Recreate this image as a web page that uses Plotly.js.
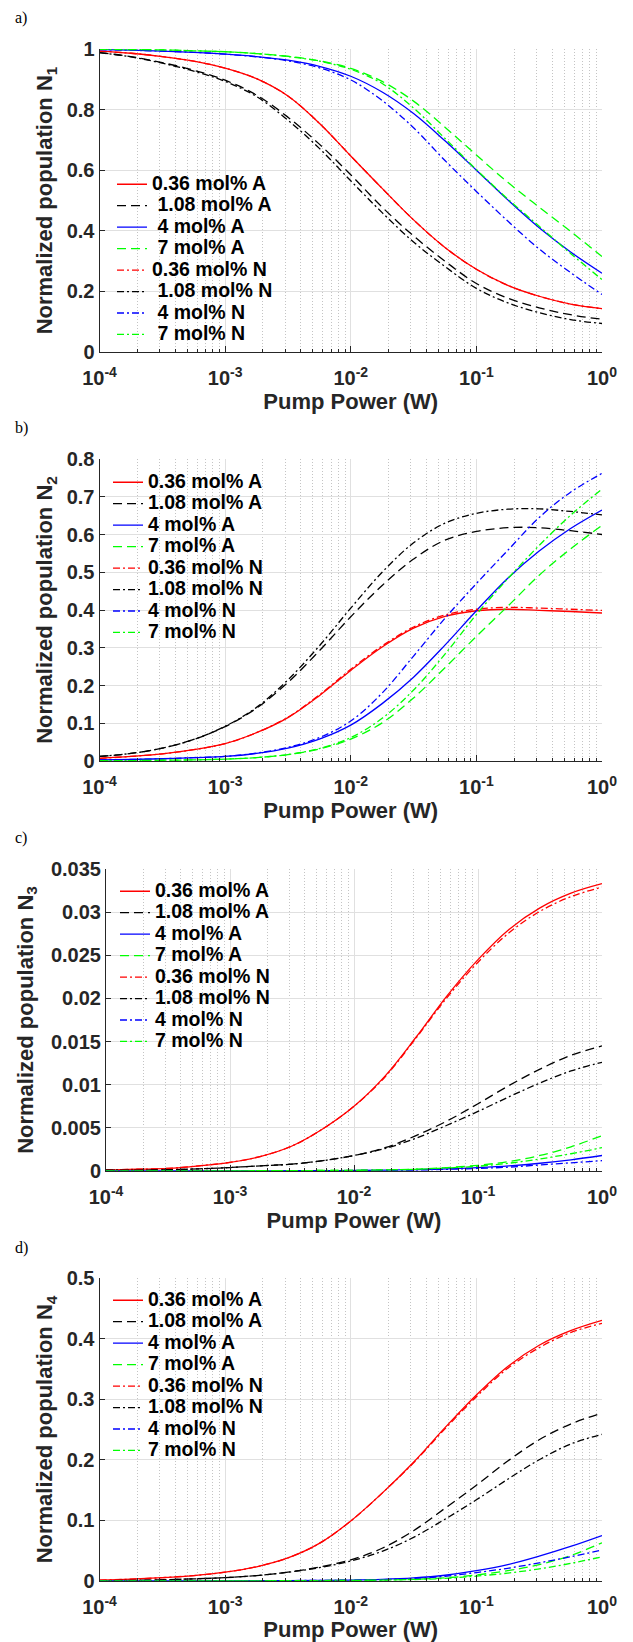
<!DOCTYPE html>
<html><head><meta charset="utf-8">
<script src="https://cdn.plot.ly/plotly-3.0.1.min.js"></script>
<style>html,body{margin:0;padding:0;background:#fff}#chart{width:633px;height:1642px}</style>
</head><body><div id="chart"></div>
<script>
// Pump power (W): sample positions along the log axis (quarter decades)
const power = [1e-4, 1.778e-4, 3.162e-4, 5.623e-4, 1e-3, 1.778e-3, 3.162e-3, 5.623e-3, 1e-2, 1.778e-2, 3.162e-2, 5.623e-2, 0.1, 0.1778, 0.3162, 0.5623, 1];

// Panel a) N1
const N1_036A = [0.993, 0.986, 0.975, 0.960, 0.937, 0.902, 0.845, 0.755, 0.647, 0.540, 0.436, 0.345, 0.273, 0.220, 0.184, 0.158, 0.143];
const N1_108A = [0.988, 0.975, 0.955, 0.930, 0.897, 0.848, 0.775, 0.686, 0.585, 0.478, 0.383, 0.300, 0.226, 0.178, 0.146, 0.123, 0.108];
const N1_4A   = [0.998, 0.996, 0.993, 0.989, 0.983, 0.975, 0.963, 0.943, 0.910, 0.858, 0.787, 0.697, 0.600, 0.502, 0.410, 0.330, 0.260];
const N1_7A   = [0.999, 0.998, 0.997, 0.994, 0.991, 0.985, 0.976, 0.961, 0.936, 0.893, 0.828, 0.742, 0.650, 0.560, 0.478, 0.398, 0.315];
const N1_036N = [0.993, 0.986, 0.975, 0.960, 0.937, 0.902, 0.845, 0.755, 0.647, 0.540, 0.436, 0.345, 0.273, 0.220, 0.184, 0.158, 0.143];
const N1_108N = [0.988, 0.974, 0.953, 0.927, 0.893, 0.843, 0.765, 0.672, 0.565, 0.460, 0.363, 0.282, 0.210, 0.162, 0.130, 0.107, 0.094];
const N1_4N   = [0.998, 0.996, 0.993, 0.989, 0.983, 0.974, 0.961, 0.938, 0.898, 0.830, 0.740, 0.632, 0.530, 0.432, 0.340, 0.262, 0.190];
const N1_7N   = [0.999, 0.998, 0.997, 0.994, 0.991, 0.985, 0.975, 0.960, 0.933, 0.886, 0.805, 0.705, 0.602, 0.505, 0.415, 0.325, 0.239];

// Panel b) N2
const N2_036A = [0.007, 0.012, 0.019, 0.030, 0.046, 0.075, 0.115, 0.173, 0.240, 0.302, 0.352, 0.383, 0.398, 0.402, 0.399, 0.396, 0.392];
const N2_108A = [0.012, 0.020, 0.034, 0.057, 0.091, 0.140, 0.208, 0.292, 0.382, 0.465, 0.535, 0.585, 0.608, 0.618, 0.618, 0.610, 0.600];
const N2_4A   = [0.003, 0.004, 0.006, 0.009, 0.012, 0.020, 0.034, 0.058, 0.095, 0.152, 0.222, 0.307, 0.398, 0.484, 0.556, 0.616, 0.665];
const N2_7A   = [0.001, 0.001, 0.002, 0.003, 0.005, 0.009, 0.017, 0.032, 0.058, 0.101, 0.167, 0.247, 0.330, 0.410, 0.492, 0.562, 0.624];
const N2_036N = [0.007, 0.012, 0.019, 0.030, 0.046, 0.075, 0.116, 0.175, 0.243, 0.305, 0.355, 0.387, 0.402, 0.407, 0.405, 0.402, 0.399];
const N2_108N = [0.012, 0.020, 0.034, 0.057, 0.092, 0.142, 0.215, 0.305, 0.405, 0.500, 0.578, 0.630, 0.656, 0.667, 0.668, 0.661, 0.652];
const N2_4N   = [0.003, 0.004, 0.006, 0.009, 0.012, 0.021, 0.036, 0.062, 0.106, 0.180, 0.278, 0.378, 0.470, 0.558, 0.645, 0.712, 0.762];
const N2_7N   = [0.001, 0.001, 0.002, 0.003, 0.005, 0.009, 0.017, 0.033, 0.062, 0.113, 0.188, 0.283, 0.388, 0.483, 0.571, 0.651, 0.720];

// Panel c) N3
const N3_036A = [0.0001, 0.0002, 0.0003, 0.0006, 0.0010, 0.0017, 0.0029, 0.0049, 0.0075, 0.0110, 0.0155, 0.0203, 0.0245, 0.0280, 0.0305, 0.0322, 0.0333];
const N3_108A = [0.0001, 0.0001, 0.00015, 0.00025, 0.0004, 0.0006, 0.0008, 0.0012, 0.0018, 0.0027, 0.0041, 0.0058, 0.0078, 0.0099, 0.0118, 0.0134, 0.0145];
const N3_4A   = [0, 0, 0.000005, 0.000008, 0.00001, 0.00002, 0.00003, 0.00004, 0.00006, 0.0001, 0.00015, 0.00025, 0.0004, 0.0006, 0.0009, 0.0013, 0.0018];
const N3_7A   = [0, 0, 0.000005, 0.00001, 0.00002, 0.00003, 0.00004, 0.00006, 0.00008, 0.00013, 0.0002, 0.0004, 0.00066, 0.0011, 0.0018, 0.0028, 0.0041];
const N3_036N = [0.0001, 0.0002, 0.0003, 0.0006, 0.0010, 0.0017, 0.0029, 0.0049, 0.0075, 0.0109, 0.0154, 0.0201, 0.0242, 0.0276, 0.0301, 0.0318, 0.0329];
const N3_108N = [0.0001, 0.0001, 0.00015, 0.00025, 0.0004, 0.0006, 0.0008, 0.0012, 0.0018, 0.0026, 0.0038, 0.0053, 0.0069, 0.0086, 0.0102, 0.0116, 0.0126];
const N3_4N   = [0, 0, 0.000005, 0.000008, 0.00001, 0.00002, 0.00003, 0.00004, 0.00005, 0.00008, 0.00012, 0.0002, 0.0003, 0.00045, 0.0007, 0.00095, 0.0012];
const N3_7N   = [0, 0, 0.000005, 0.00001, 0.00002, 0.00003, 0.00004, 0.00006, 0.00008, 0.00013, 0.0002, 0.00035, 0.00055, 0.0009, 0.0014, 0.0020, 0.0027];

// Panel d) N4
const N4_036A = [0.0016, 0.0030, 0.0055, 0.0090, 0.0145, 0.0235, 0.038, 0.062, 0.099, 0.145, 0.196, 0.253, 0.307, 0.354, 0.389, 0.413, 0.430];
const N4_108A = [0.0005, 0.0010, 0.0020, 0.0035, 0.0055, 0.0090, 0.0145, 0.0230, 0.035, 0.054, 0.083, 0.120, 0.158, 0.198, 0.233, 0.259, 0.277];
const N4_4A   = [0, 0, 0.0001, 0.0002, 0.0003, 0.0005, 0.0007, 0.0010, 0.0015, 0.0026, 0.0050, 0.0095, 0.017, 0.027, 0.041, 0.057, 0.075];
const N4_7A   = [0, 0, 0.0001, 0.0001, 0.0002, 0.0003, 0.0005, 0.0007, 0.0010, 0.0016, 0.0028, 0.0052, 0.010, 0.017, 0.027, 0.042, 0.063];
const N4_036N = [0.0016, 0.0030, 0.0055, 0.0090, 0.0145, 0.0235, 0.038, 0.062, 0.099, 0.145, 0.195, 0.251, 0.304, 0.351, 0.385, 0.410, 0.425];
const N4_108N = [0.0005, 0.0010, 0.0020, 0.0035, 0.0055, 0.0090, 0.0145, 0.0220, 0.033, 0.049, 0.072, 0.102, 0.134, 0.168, 0.200, 0.226, 0.242];
const N4_4N   = [0, 0, 0.0001, 0.0002, 0.0003, 0.0005, 0.0007, 0.0010, 0.0014, 0.0023, 0.0042, 0.0078, 0.014, 0.021, 0.030, 0.040, 0.051];
const N4_7N   = [0, 0, 0.0001, 0.0001, 0.0002, 0.0003, 0.0005, 0.0007, 0.0010, 0.0015, 0.0024, 0.0043, 0.008, 0.013, 0.020, 0.029, 0.040];

const seriesNames = ['0.36 mol% A', '1.08 mol% A', '4 mol% A', '7 mol% A', '0.36 mol% N', '1.08 mol% N', '4 mol% N', '7 mol% N'];
const seriesNamesA = ['0.36 mol% A', ' 1.08 mol% A', ' 4 mol% A', ' 7 mol% A', '0.36 mol% N', ' 1.08 mol% N', ' 4 mol% N', ' 7 mol% N'];
const xTickVals = [1e-4, 1e-3, 1e-2, 1e-1, 1];
const xTickText = ['10<sup>-4</sup>', '10<sup>-3</sup>', '10<sup>-2</sup>', '10<sup>-1</sup>', '10<sup>0</sup>'];
const panelLabels = ['a)', 'b)', 'c)', 'd)'];
const yTitles = ['Normalized population N<sub>1</sub>', 'Normalized population N<sub>2</sub>', 'Normalized population N<sub>3</sub>', 'Normalized population N<sub>4</sub>'];

const panels = [
  [N1_036A, N1_108A, N1_4A, N1_7A, N1_036N, N1_108N, N1_4N, N1_7N],
  [N2_036A, N2_108A, N2_4A, N2_7A, N2_036N, N2_108N, N2_4N, N2_7N],
  [N3_036A, N3_108A, N3_4A, N3_7A, N3_036N, N3_108N, N3_4N, N3_7N],
  [N4_036A, N4_108A, N4_4A, N4_7A, N4_036N, N4_108N, N4_4N, N4_7N]
];

const COLORS = ['#ff0000', '#000000', '#0000ff', '#00ff00', '#ff0000', '#000000', '#0000ff', '#00ff00'];
const DASHES = ['solid', '9px,5px', 'solid', '9px,5px', '7px,3px,2px,3px', '7px,3px,2px,3px', '7px,3px,2px,3px', '7px,3px,2px,3px'];
const FONT = 'Liberation Sans, Arial, Helvetica, sans-serif';
const W = 633, H = 1642;

const geo = [
  {l: 99.5, r: 602, t: 49, b: 352, yr: [0, 1], dt: 0.2, leg: [112, 168.5], lab: 7, ys: 7},
  {l: 99.5, r: 602, t: 459, b: 761, yr: [0, 0.8], dt: 0.1, leg: [108, 466.5], lab: 417, ys: 7},
  {l: 106, r: 602, t: 869, b: 1171, yr: [0, 0.035], dt: 0.005, leg: [115, 875.5], lab: 827, ys: 11},
  {l: 99.5, r: 602, t: 1278, b: 1581, yr: [0, 0.5], dt: 0.1, leg: [108, 1284.5], lab: 1237, ys: 7}
];

const data = [];
const layout = {
  width: W, height: H, margin: {l: 0, r: 0, t: 0, b: 0},
  paper_bgcolor: '#fff', plot_bgcolor: '#fff', showlegend: true,
  font: {family: FONT, color: '#262626'},
  annotations: []
};

panels.forEach((series, p) => {
  const k = p + 1;
  const xa = k === 1 ? 'x' : 'x' + k;
  const ya = k === 1 ? 'y' : 'y' + k;
  const lg = k === 1 ? 'legend' : 'legend' + k;
  const names = p === 0 ? seriesNamesA : seriesNames;
  series.forEach((vals, i) => {
    data.push({
      x: power, y: vals, type: 'scatter', mode: 'lines',
      name: '<span style="font-size:19.5px">' + names[i] + '</span>',
      line: {color: COLORS[i], width: 1.3, dash: DASHES[i], shape: 'spline', smoothing: 1},
      xaxis: xa, yaxis: ya, legend: lg, hoverinfo: 'skip'
    });
  });
  const g = geo[p];
  layout[k === 1 ? 'xaxis' : 'xaxis' + k] = {
    type: 'log', domain: [g.l / W, g.r / W], anchor: ya, range: [-4, 0],
    tickmode: 'array', tickvals: xTickVals, ticktext: xTickText,
    ticks: 'inside', ticklen: 6, tickwidth: 1, tickcolor: '#262626', ticklabelstandoff: 8,
    showline: true, linecolor: '#262626', linewidth: 1, mirror: false,
    showgrid: true, gridcolor: '#e0e0e0', gridwidth: 1, zeroline: false,
    minor: {dtick: 'D1', ticks: 'inside', ticklen: 3, tickwidth: 1, tickcolor: '#262626',
            showgrid: true, gridcolor: '#c4c4c4', griddash: '1px,2px', gridwidth: 1},
    tickfont: {family: FONT, size: 20, color: '#262626', weight: 'bold'},
    title: {text: 'Pump Power (W)', font: {family: FONT, size: 22, color: '#262626', weight: 'bold'}, standoff: 1},
    automargin: false, fixedrange: true
  };
  layout[k === 1 ? 'yaxis' : 'yaxis' + k] = {
    domain: [1 - g.b / H, 1 - g.t / H], anchor: xa, range: g.yr, tick0: 0, dtick: g.dt,
    ticks: 'inside', ticklen: 5, tickwidth: 1, tickcolor: '#262626',
    showline: true, linecolor: '#262626', linewidth: 1, mirror: false,
    showgrid: true, gridcolor: '#e0e0e0', gridwidth: 1, zeroline: false,
    tickfont: {family: FONT, size: 20, color: '#262626', weight: 'bold'},
    title: {text: yTitles[p], font: {family: FONT, size: 22, color: '#262626', weight: 'bold'}, standoff: g.ys},
    automargin: false, fixedrange: true
  };
  layout[lg] = {
    x: g.leg[0] / W, y: 1 - g.leg[1] / H, xanchor: 'left', yanchor: 'top',
    bgcolor: 'rgba(0,0,0,0)', borderwidth: 0, itemwidth: 30, tracegroupgap: 0,
    font: {family: FONT, size: 14.2, color: '#000', weight: 'bold'}
  };
  layout.annotations.push({
    text: panelLabels[p], xref: 'paper', yref: 'paper', x: 13 / W, y: 1 - g.lab / H,
    xanchor: 'left', yanchor: 'top', showarrow: false,
    font: {family: 'Liberation Serif, DejaVu Serif, serif', size: 16, color: '#000'}
  });
});

Plotly.newPlot('chart', data, layout, {staticPlot: true, displayModeBar: false});
</script>
</body></html>
